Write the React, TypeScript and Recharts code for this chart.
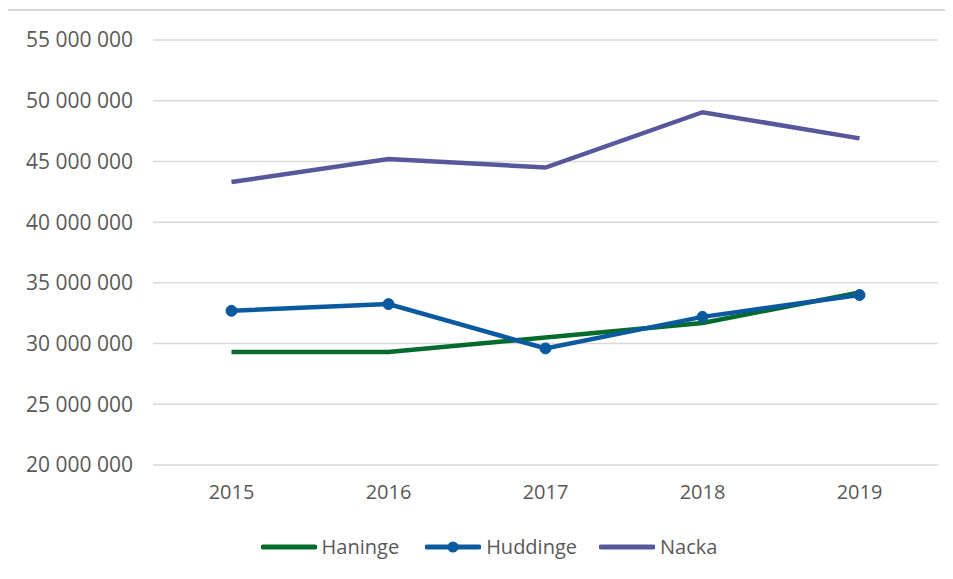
import { LineChart, Line, XAxis, YAxis, CartesianGrid, Legend } from 'recharts';

const years = ['2015', '2016', '2017', '2018', '2019'];
const haninge = [29300000, 29300000, 30500000, 31700000, 34200000];
const huddinge = [32700000, 33250000, 29600000, 32200000, 34000000];
const nacka = [43300000, 45200000, 44500000, 49050000, 46900000];
const yTicks = [20000000, 25000000, 30000000, 35000000, 40000000, 45000000, 50000000, 55000000];

const COLORS = { Haninge: '#036b2c', Huddinge: '#0b5aa0', Nacka: '#57579b' };
const FONT = '"Open Sans", sans-serif';

const data = years.map((y, i) => ({
  year: y,
  Haninge: haninge[i],
  Huddinge: huddinge[i],
  Nacka: nacka[i],
}));

const fmt = (v: number) => v.toString().replace(/\B(?=(\d{3})+(?!\d))/g, ' ');

const LegendContent = ({ payload }: any) => (
  <div style={{ display: 'flex', justifyContent: 'center', paddingLeft: 40, fontFamily: FONT, fontSize: 20, color: '#595959' }}>
    {(payload || []).map((p: any, i: number) => (
      <div key={p.value} style={{ display: 'flex', alignItems: 'center', gap: 5, marginLeft: i === 0 ? 0 : i === 1 ? 26 : 22 }}>
        <svg width={56} height={14}>
          <line x1={2} y1={7} x2={54} y2={7} stroke={p.color} strokeWidth={5} strokeLinecap="round" />
          {p.value === 'Huddinge' && <circle cx={28} cy={7} r={5.5} fill={p.color} />}
        </svg>
        <span>{p.value}</span>
      </div>
    ))}
  </div>
);

export default function App() {
  return (
    <div style={{ position: 'relative', width: 953, height: 579, margin: -8, overflow: 'hidden', background: '#fff' }}>
      <div style={{ position: 'absolute', left: 6, top: 9, width: 1000, height: 1000, border: '2px solid #d9d9d9' }} />
      <div style={{ position: 'absolute', left: 0, top: 0 }}>
        <LineChart width={953} height={579} data={data} margin={{ top: 40, right: 15, left: 0, bottom: 16 }}>
          <CartesianGrid horizontal vertical={false} stroke="#d9d9d9" strokeWidth={1.5} />
          <XAxis
            dataKey="year"
            axisLine={false}
            tickLine={false}
            height={68}
            tickMargin={14}
            padding={{ left: 78.5, right: 78.5 }}
            tick={{ fill: '#595959', fontSize: 20, fontFamily: FONT }}
          />
          <YAxis
            width={153}
            domain={[20000000, 55000000]}
            ticks={yTicks}
            axisLine={false}
            tickLine={false}
            tickMargin={14}
            tickFormatter={fmt}
            tick={{ fill: '#595959', fontSize: 21, fontFamily: FONT }}
          />
          <Legend verticalAlign="bottom" height={30} content={<LegendContent />} />
          <Line
            dataKey="Haninge"
            stroke={COLORS.Haninge}
            strokeWidth={4.5}
            dot={false}
            isAnimationActive={false}
          />
          <Line
            dataKey="Huddinge"
            stroke={COLORS.Huddinge}
            strokeWidth={4.5}
            dot={{ r: 5.5, fill: COLORS.Huddinge, stroke: COLORS.Huddinge, strokeWidth: 1 }}
            isAnimationActive={false}
          />
          <Line
            dataKey="Nacka"
            stroke={COLORS.Nacka}
            strokeWidth={4.5}
            dot={false}
            isAnimationActive={false}
          />
        </LineChart>
      </div>
    </div>
  );
}
